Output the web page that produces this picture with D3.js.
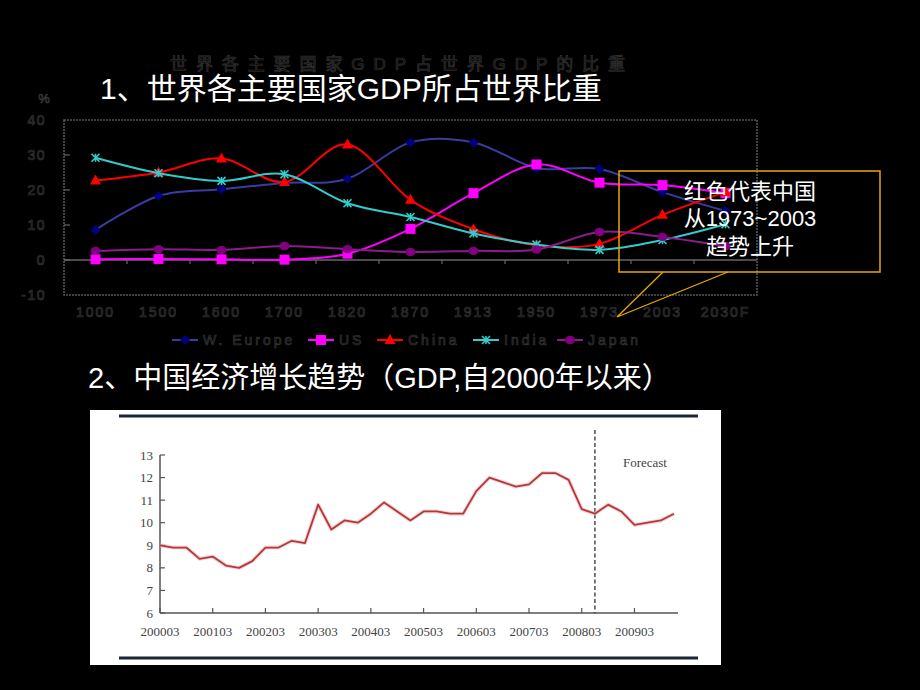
<!DOCTYPE html>
<html><head><meta charset="utf-8">
<script src="https://cdn.jsdelivr.net/npm/d3@7"></script>
<style>
html,body{margin:0;padding:0;background:#000;}
svg{display:block;}
</style></head>
<body>
<svg id="c" width="920" height="690"></svg>
<script>
// ---------- Data: chart 1 (share of world GDP, %) ----------
const categories = ["1000","1500","1600","1700","1820","1870","1913","1950","1973","2003","2030F"];
const wEurope = [8.6,18.3,20.2,22.0,23.2,33.6,33.6,26.3,26.0,19.4,14.0];
const us      = [0.2,0.3,0.2,0.1,1.8,8.9,19.1,27.3,22.1,21.4,19.1];
const china   = [22.7,25.0,29.0,22.3,33.0,17.2,8.8,4.2,4.6,12.9,19.4];
const india   = [29.2,24.8,22.6,24.5,16.2,12.3,7.6,4.4,2.9,5.7,10.2];
const japan   = [2.6,3.1,2.9,4.0,3.1,2.3,2.6,3.0,8.0,6.6,4.0];
const seriesNames = ["W. Europe","US","China","India","Japan"];
const yTicks1 = [-10,0,10,20,30,40];

// ---------- Data: chart 2 (China GDP growth, quarterly) ----------
const quarters = [];
["2000","2001","2002","2003","2004","2005","2006","2007","2008","2009"].forEach(y =>
  ["03","06","09","12"].forEach(q => quarters.push(y + q)));
const gdpGrowth = [9.0,8.9,8.9,8.4,8.5,8.1,8.0,8.3,8.9,8.9,
                   9.2,9.1,10.8,9.7,10.1,10.0,10.4,10.9,10.5,10.1,
                   10.5,10.5,10.4,10.4,11.4,12.0,11.8,11.6,11.7,12.2,
                   12.2,11.9,10.6,10.4,10.8,10.5,9.9,10.0,10.1,10.4];
const xTickLabels2 = ["200003","200103","200203","200303","200403","200503","200603","200703","200803","200903"];
const yTicks2 = [6,7,8,9,10,11,12,13];
const forecastStart = "200806";

const svg = d3.select("#c");
const CJK = "'Liberation Sans','Noto Sans CJK SC',sans-serif";

// ---------- Chart 1 ----------
const x1 = d3.scaleBand().domain(categories).range([64, 757]).padding(0);
const y1 = d3.scaleLinear().domain([-10, 40]).range([295, 120]);
const cx = c => x1(c) + x1.bandwidth() / 2;
const dimText = sel => sel.attr("fill", "#080808").attr("stroke", "#363636").attr("stroke-width", 0.7);

// ghost chart title (sits behind the slide title)
svg.append("text").attr("x", 170).attr("y", 70)
  .attr("font-family", CJK).attr("font-size", 17)
  .attr("textLength", 455).attr("lengthAdjust", "spacing")
  .call(dimText)
  .text("世界各主要国家GDP占世界GDP的比重");

// frame
svg.append("rect").attr("x", 64).attr("y", 120).attr("width", 693).attr("height", 175)
  .attr("fill", "none").attr("stroke", "#555").attr("stroke-width", 1.6).attr("stroke-dasharray", "2,1");
// zero line
svg.append("line").attr("x1", 64).attr("x2", 757).attr("y1", y1(0)).attr("y2", y1(0))
  .attr("stroke", "#666").attr("stroke-width", 1.4);
categories.slice(1).forEach(c => {
  svg.append("line").attr("x1", x1(c)).attr("x2", x1(c)).attr("y1", y1(0)).attr("y2", y1(0) + 4)
    .attr("stroke", "#666").attr("stroke-width", 1.2);
});
yTicks1.filter(t => t > -10 && t < 40).forEach(t => {
  svg.append("line").attr("x1", 64).attr("x2", 70).attr("y1", y1(t)).attr("y2", y1(t))
    .attr("stroke", "#666").attr("stroke-width", 1.2);
});
yTicks1.forEach(t => {
  svg.append("text").attr("x", 46).attr("y", y1(t) + 5).attr("text-anchor", "end")
    .attr("font-family", "'Liberation Sans',Arial,sans-serif").attr("font-size", 14)
    .attr("letter-spacing", 1.5).call(dimText).text(t);
});
svg.append("text").attr("x", 44).attr("y", 103).attr("text-anchor", "middle")
  .attr("font-family", "'Liberation Sans',Arial,sans-serif").attr("font-size", 13)
  .call(dimText).text("%");
categories.forEach(c => {
  svg.append("text").attr("x", cx(c)).attr("y", 317).attr("text-anchor", "middle")
    .attr("font-family", "'Liberation Sans',Arial,sans-serif").attr("font-size", 14)
    .attr("letter-spacing", 2).call(dimText).text(c);
});

const styles = [
  {data: wEurope, line: "#3b3ba3", mark: "#000080", shape: "diamond"},
  {data: us,      line: "#ff00ff", mark: "#ff00ff", shape: "square"},
  {data: china,   line: "#ff0000", mark: "#ff0000", shape: "triangle"},
  {data: india,   line: "#33cccc", mark: "#33cccc", shape: "cross"},
  {data: japan,   line: "#8b1c8b", mark: "#800080", shape: "circle"}
];

function marker(g, shape, x, y, color) {
  if (shape === "diamond") {
    g.append("path").attr("d", `M${x},${y-5}L${x+5},${y}L${x},${y+5}L${x-5},${y}Z`).attr("fill", color);
  } else if (shape === "square") {
    g.append("rect").attr("x", x-5).attr("y", y-5).attr("width", 10).attr("height", 10).attr("fill", color);
  } else if (shape === "triangle") {
    g.append("path").attr("d", `M${x},${y-6}L${x+5.5},${y+4}L${x-5.5},${y+4}Z`).attr("fill", color);
  } else if (shape === "cross") {
    g.append("path").attr("d", `M${x-4},${y-4}L${x+4},${y+4}M${x+4},${y-4}L${x-4},${y+4}M${x},${y-4}L${x},${y+4}`)
      .attr("stroke", color).attr("stroke-width", 1.6);
  } else {
    g.append("ellipse").attr("cx", x).attr("cy", y).attr("rx", 5).attr("ry", 4.2).attr("fill", color);
  }
}

const lineGen = d3.line().x(d => cx(d[0])).y(d => y1(d[1])).curve(d3.curveCardinal.tension(0));
const gLines = svg.append("g");
styles.forEach(s => {
  const pts = categories.map((c, i) => [c, s.data[i]]);
  gLines.append("path").attr("d", lineGen(pts)).attr("fill", "none")
    .attr("stroke", s.line).attr("stroke-width", 2);
  pts.forEach(p => marker(gLines, s.shape, cx(p[0]), y1(p[1]), s.mark));
});

// legend
const legendX = [172, 308, 377, 473, 557];
seriesNames.forEach((n, i) => {
  const lx = legendX[i], ly = 340;
  svg.append("line").attr("x1", lx).attr("x2", lx + 26).attr("y1", ly).attr("y2", ly)
    .attr("stroke", styles[i].line).attr("stroke-width", 2);
  marker(svg, styles[i].shape, lx + 13, ly, styles[i].mark);
  svg.append("text").attr("x", lx + 31).attr("y", ly + 5)
    .attr("font-family", "'Liberation Sans',Arial,sans-serif").attr("font-size", 14)
    .attr("letter-spacing", 3).call(dimText).text(n);
});

// slide title 1
svg.append("text").attr("x", 100).attr("y", 99).attr("fill", "#fff")
  .attr("font-family", CJK).attr("font-size", 30).text("1、世界各主要国家GDP所占世界比重");

// callout
svg.append("path").attr("d", "M663,272L617,317L728,272").attr("fill", "none")
  .attr("stroke", "#e8a800").attr("stroke-width", 1.3);
svg.append("rect").attr("x", 619).attr("y", 171).attr("width", 261).attr("height", 101)
  .attr("fill", "none").attr("stroke", "#e8a800").attr("stroke-width", 1.5);
[["红色代表中国", 199], ["从1973~2003", 226], ["趋势上升", 254]].forEach(([t, y]) => {
  svg.append("text").attr("x", 750).attr("y", y).attr("text-anchor", "middle")
    .attr("fill", "#fff").attr("font-family", CJK).attr("font-size", 22).text(t);
});

// slide title 2
svg.append("text").attr("x", 88).attr("y", 388).attr("fill", "#fff")
  .attr("font-family", CJK).attr("font-size", 29).text("2、中国经济增长趋势（GDP,自2000年以来）");

// ---------- Chart 2 ----------
svg.append("rect").attr("x", 90).attr("y", 410).attr("width", 631).attr("height", 255).attr("fill", "#fff");
svg.append("line").attr("x1", 119).attr("x2", 698).attr("y1", 416).attr("y2", 416)
  .attr("stroke", "#1c2636").attr("stroke-width", 3);
svg.append("line").attr("x1", 119).attr("x2", 698).attr("y1", 658).attr("y2", 658)
  .attr("stroke", "#1c2636").attr("stroke-width", 3);

const x2 = d3.scalePoint().domain(quarters).range([160, 674]);
const y2 = d3.scaleLinear().domain([6, 13]).range([613, 455]);
const SERIF = "'Liberation Serif','Times New Roman',serif";

const g2 = svg.append("g");
g2.append("line").attr("x1", 160).attr("x2", 160).attr("y1", y2(13)).attr("y2", y2(6))
  .attr("stroke", "#555").attr("stroke-width", 1.5);
g2.append("line").attr("x1", 160).attr("x2", 678).attr("y1", y2(6)).attr("y2", y2(6))
  .attr("stroke", "#555").attr("stroke-width", 1.5);
yTicks2.forEach(t => {
  g2.append("line").attr("x1", 160).attr("x2", 165).attr("y1", y2(t)).attr("y2", y2(t))
    .attr("stroke", "#555").attr("stroke-width", 1.2);
  g2.append("text").attr("x", 153).attr("y", y2(t) + 4.5).attr("text-anchor", "end")
    .attr("font-family", SERIF).attr("font-size", 13).attr("fill", "#444").text(t);
});
xTickLabels2.forEach(q => {
  g2.append("line").attr("x1", x2(q)).attr("x2", x2(q)).attr("y1", y2(6)).attr("y2", y2(6) - 5)
    .attr("stroke", "#555").attr("stroke-width", 1.2);
  g2.append("text").attr("x", x2(q)).attr("y", 636).attr("text-anchor", "middle")
    .attr("font-family", SERIF).attr("font-size", 13).attr("fill", "#444").text(q);
});
const fx = x2(forecastStart);
g2.append("line").attr("x1", fx).attr("x2", fx).attr("y1", 430).attr("y2", y2(6))
  .attr("stroke", "#222").attr("stroke-width", 1.2).attr("stroke-dasharray", "4,2.5");
g2.append("text").attr("x", fx + 28).attr("y", 467)
  .attr("font-family", SERIF).attr("font-size", 13).attr("fill", "#444").text("Forecast");
const line2 = d3.line().x((d, i) => x2(quarters[i])).y(d => y2(d));
g2.append("path").attr("d", line2(gdpGrowth)).attr("fill", "none")
  .attr("stroke", "#f2b8b8").attr("stroke-width", 4).attr("stroke-linejoin", "round").attr("opacity", 0.6);
g2.append("path").attr("d", line2(gdpGrowth)).attr("fill", "none")
  .attr("stroke", "#b0393c").attr("stroke-width", 1.8).attr("stroke-linejoin", "round");
</script>
</body></html>
